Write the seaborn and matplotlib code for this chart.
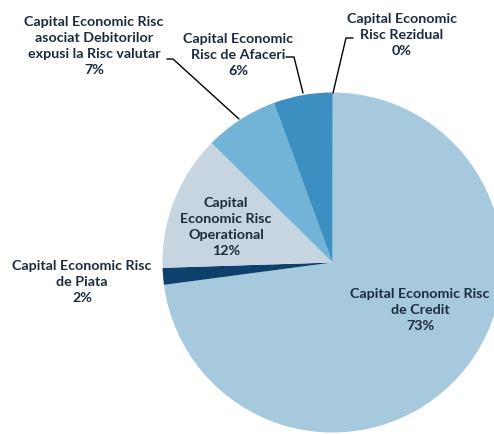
import matplotlib
matplotlib.use("Agg")
import matplotlib.pyplot as plt
import seaborn as sns

categories = [
    "Capital Economic Risc\nde Credit",
    "Capital Economic Risc\nde Piata",
    "Capital\nEconomic Risc\nOperational",
    "Capital Economic Risc\nasociat Debitorilor\nexpusi la Risc valutar",
    "Capital Economic\nRisc de Afaceri",
    "Capital Economic\nRisc Rezidual",
]
values = [72.9, 1.6, 12.9, 7.0, 5.55, 0.05]
pct_labels = ["73%", "2%", "12%", "7%", "6%", "0%"]
colors = ["#a7c9dd", "#0d406c", "#c6d5e0", "#71b4d8", "#3b8fc1", "#2f6f9f"]

sns.set_theme(style="white")
plt.rcParams["font.family"] = ["Lato", "DejaVu Sans"]

W, H = 494, 434
fig = plt.figure(figsize=(W / 100, H / 100), dpi=100)
ax = fig.add_axes([0, 0, 1, 1])

CX, CY, R = 332.5, 262.5, 170.0


def px(x, y):
    return ((x - CX) / R, (CY - y) / R)


ax.pie(values, colors=colors, startangle=90, counterclock=False,
       radius=1.0, center=(0, 0),
       wedgeprops=dict(linewidth=0, edgecolor="none"))
ax.set_aspect("auto")
ax.set_xlim(px(0, 0)[0], px(W, 0)[0])
ax.set_ylim(px(0, H)[1], px(0, 0)[1])
ax.axis("off")

txt_color = "#1c2b3d"
label_pos = [
    (420, 310),   # Credit
    (82, 282),    # Piata
    (226, 227),   # Operational
    (94, 46),     # Debitori
    (238, 55),    # Afaceri
    (402, 35),    # Rezidual
]
for cat, pct, (x, y) in zip(categories, pct_labels, label_pos):
    tx, ty = px(x, y)
    ax.text(tx, ty, f"{cat}\n{pct}", ha="center", va="center",
            fontsize=10.3, fontweight="bold", color=txt_color,
            linespacing=1.42)

leaders = [
    [(167, 59), (173, 59), (239, 119)],
    [(286, 57), (294, 57), (303, 93)],
    [(353, 38), (346, 38), (333, 93)],
]
for pts in leaders:
    xs, ys = zip(*[px(a, b) for a, b in pts])
    ax.plot(xs, ys, color="black", linewidth=1.0)

fig.savefig("out.png", dpi=100)
